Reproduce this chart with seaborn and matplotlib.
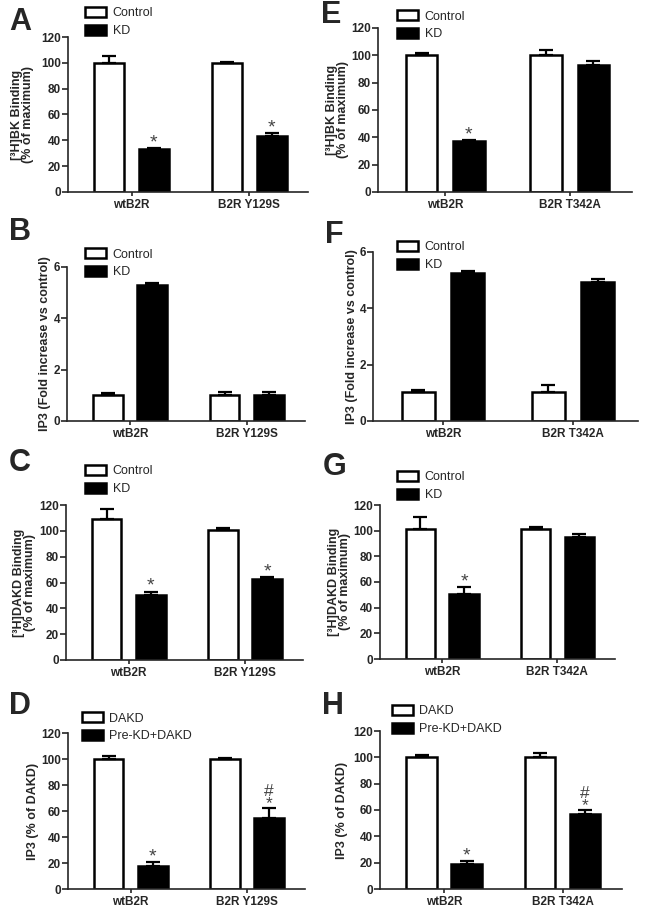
import numpy as np
import pandas as pd
import matplotlib
matplotlib.use("Agg")
import matplotlib.pyplot as plt
import seaborn as sns

# categories
left_receptors = ["wtB2R", "B2R Y129S"]
right_receptors = ["wtB2R", "B2R T342A"]
kd_groups = ["Control", "KD"]
dakd_groups = ["DAKD", "Pre-KD+DAKD"]

# A: [3H]BK binding, Y129S
a_ctrl, a_ctrl_sem = [100, 100], [5, 1]
a_trt, a_trt_sem = [33, 43], [1, 2.5]
a_marks = ["*", "*"]
# B: IP3 fold increase, Y129S
b_ctrl, b_ctrl_sem = [1.0, 1.0], [0.09, 0.13]
b_trt, b_trt_sem = [5.28, 1.0], [0.08, 0.13]
b_marks = ["", ""]
# C: [3H]DAKD binding, Y129S
c_ctrl, c_ctrl_sem = [109, 101], [8, 1]
c_trt, c_trt_sem = [50.5, 63], [2.5, 1]
c_marks = ["*", "*"]
# D: IP3 % of DAKD, Y129S
d_ctrl, d_ctrl_sem = [100, 100], [2, 1]
d_trt, d_trt_sem = [18, 54.5], [2.6, 8]
d_marks = ["*", "#\n*"]
# E: [3H]BK binding, T342A
e_ctrl, e_ctrl_sem = [100, 100], [1.5, 4]
e_trt, e_trt_sem = [37, 93], [1, 2.5]
e_marks = ["*", ""]
# F: IP3 fold increase, T342A
f_ctrl, f_ctrl_sem = [1.03, 1.03], [0.06, 0.26]
f_trt, f_trt_sem = [5.27, 4.93], [0.07, 0.1]
f_marks = ["", ""]
# G: [3H]DAKD binding, T342A
g_ctrl, g_ctrl_sem = [101, 101], [9.5, 1.5]
g_trt, g_trt_sem = [51, 95], [5, 2.5]
g_marks = ["*", ""]
# H: IP3 % of DAKD, T342A
h_ctrl, h_ctrl_sem = [100, 100], [2, 3]
h_trt, h_trt_sem = [19, 57], [2.5, 3]
h_marks = ["*", "#\n*"]

bk_label = "[³H]BK Binding\n(% of maximum)"
dakd_label = "[³H]DAKD Binding\n(% of maximum)"
fold_label = "IP3 (Fold increase vs control)"
pct_label = "IP3 (% of DAKD)"
pct_ticks = [0, 20, 40, 60, 80, 100, 120]
fold_ticks = [0, 2, 4, 6]

sns.set_style("ticks")
plt.rcParams["font.family"] = ["Liberation Sans", "DejaVu Sans"]
plt.rcParams["axes.linewidth"] = 1.2

W, H = 645, 914
fig = plt.figure(figsize=(W / 100, H / 100), dpi=100)


def draw_panel(letter, box, letter_xy, leg_xy, lab_off, receptors, groups,
               ctrl, ctrl_sem, trt, trt_sem, marks, ylabel, yticks):
    l, r, t, b = box
    ax = fig.add_axes([l / W, 1 - b / H, (r - l) / W, (b - t) / H])
    df = pd.DataFrame({
        "receptor": receptors * 2,
        "group": [groups[0]] * 2 + [groups[1]] * 2,
        "value": list(ctrl) + list(trt),
    })
    sns.barplot(data=df, x="receptor", y="value", hue="group", order=receptors,
                hue_order=groups, palette=["white", "black"], edgecolor="black",
                linewidth=1.8, width=0.76, gap=0.33, errorbar=None, legend=False,
                saturation=1, ax=ax)
    bars = list(ax.containers)
    sems = [ctrl_sem, trt_sem]
    means = [ctrl, trt]
    for i, cont in enumerate(bars):
        xs = [p.get_x() + p.get_width() / 2 for p in cont.patches]
        ax.errorbar(xs, means[i], yerr=[[0] * len(xs), sems[i]], fmt="none",
                    ecolor="black", elinewidth=1.6, capsize=5, capthick=1.6, zorder=1)
        if i == 1:
            for x, m, s, mk in zip(xs, means[i], sems[i], marks):
                if mk == "*":
                    ax.annotate(mk, (x, m + s), xytext=(0, 0.5), textcoords="offset points",
                                ha="center", va="baseline", fontsize=14, color="#444444")
                elif mk:
                    # '#' stacked over '*'
                    ax.annotate(mk, (x, m + s), xytext=(0, -2.2), textcoords="offset points",
                                ha="center", va="bottom", fontsize=12.5, color="#444444",
                                linespacing=0.72)
    ax.set_xlim(-0.54, 1.5)
    ax.set_ylim(0, yticks[-1])
    ax.set_yticks(yticks)
    ax.set_xlabel("")
    ax.set_ylabel(ylabel, fontsize=9, fontweight="bold", linespacing=0.85)
    ax.yaxis.set_label_coords(-lab_off / (r - l), 0.5)
    ax.tick_params(axis="y", length=4, width=1.2, pad=1, labelsize=8.5)
    ax.tick_params(axis="x", length=3, width=1.2, pad=2, labelsize=8.5)
    for lab in ax.get_yticklabels() + ax.get_xticklabels():
        lab.set_fontweight("bold")
    sns.despine(ax=ax)
    handles = [c.patches[0] for c in bars]
    ax.legend(handles, groups, loc="upper left",
              bbox_to_anchor=(leg_xy[0] / W, 1 - (leg_xy[1] - 7) / H),
              bbox_transform=fig.transFigure, frameon=False, borderpad=0,
              borderaxespad=0, handlelength=1.7, handleheight=0.9,
              handletextpad=0.5, labelspacing=0.4, fontsize=9)
    fig.text(letter_xy[0] / W, 1 - letter_xy[1] / H, letter, fontsize=22,
             fontweight="bold", ha="center", va="center")
    return ax


draw_panel("A", (68, 308, 37, 192), (20, 22), (85, 14), 34, left_receptors, kd_groups,
           a_ctrl, a_ctrl_sem, a_trt, a_trt_sem, a_marks, bk_label, pct_ticks)
draw_panel("B", (67, 305, 267, 421), (20, 232), (85, 255), 16, left_receptors, kd_groups,
           b_ctrl, b_ctrl_sem, b_trt, b_trt_sem, b_marks, fold_label, fold_ticks)
draw_panel("C", (66, 303, 505, 660), (20, 463), (85, 472), 30, left_receptors, kd_groups,
           c_ctrl, c_ctrl_sem, c_trt, c_trt_sem, c_marks, dakd_label, pct_ticks)
draw_panel("D", (68, 305, 733, 889), (20, 706), (82, 719), 29, left_receptors, dakd_groups,
           d_ctrl, d_ctrl_sem, d_trt, d_trt_sem, d_marks, pct_label, pct_ticks)
draw_panel("E", (378, 632, 28, 192), (331, 15), (397, 17), 29, right_receptors, kd_groups,
           e_ctrl, e_ctrl_sem, e_trt, e_trt_sem, e_marks, bk_label, pct_ticks)
draw_panel("F", (373, 638, 252, 421), (334, 235), (397, 248), 15, right_receptors, kd_groups,
           f_ctrl, f_ctrl_sem, f_trt, f_trt_sem, f_marks, fold_label, fold_ticks)
draw_panel("G", (380, 615, 505, 659), (335, 467), (397, 478), 29, right_receptors, kd_groups,
           g_ctrl, g_ctrl_sem, g_trt, g_trt_sem, g_marks, dakd_label, pct_ticks)
draw_panel("H", (380, 622, 731, 889), (333, 706), (392, 712), 32, right_receptors, dakd_groups,
           h_ctrl, h_ctrl_sem, h_trt, h_trt_sem, h_marks, pct_label, pct_ticks)

fig.savefig("out.png", dpi=100)
